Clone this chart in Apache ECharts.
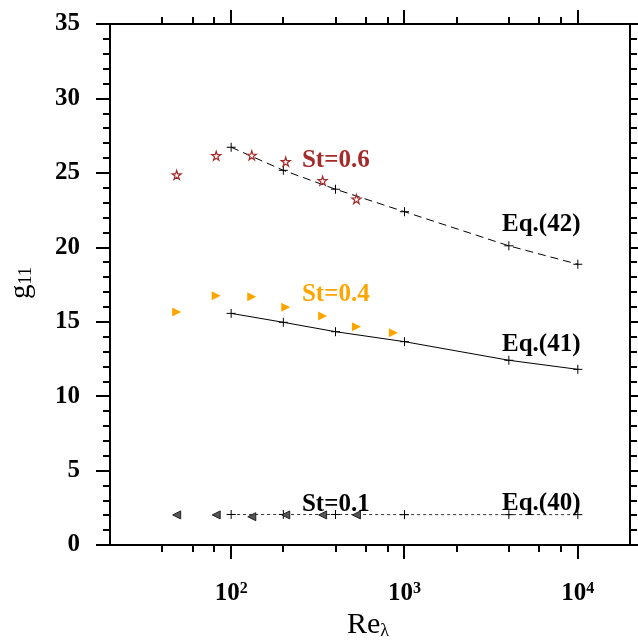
<!DOCTYPE html>
<html>
<head>
<meta charset="utf-8">
<script src="https://cdn.jsdelivr.net/npm/echarts@6/dist/echarts.min.js"></script>
<style>
  html, body { margin: 0; padding: 0; background: #fff; }
  #chart { width: 638px; height: 644px; }
</style>
</head>
<body>
<div id="chart"></div>
<script>
// Reynolds numbers of the simulation runs
const reSim = [48.5, 82, 131.5, 206.5, 337, 528, 863];
// g11 from the simulations, one array per Stokes number
const g11St06 = [24.86, 26.15, 26.18, 25.75, 24.47, 23.24];
const g11St04 = [15.65, 16.75, 16.68, 15.97, 15.38, 14.67, 14.26];
const g11St01 = [2.02, 2.02, 1.9, 2.02, 2.02, 2.02];

// Model predictions, Eq.(40)-(42)
const reModel = [100, 200, 400, 1000, 4000, 10000];
const g11Eq42 = [26.72, 25.17, 23.9, 22.39, 20.1, 18.86];
const g11Eq41 = [15.56, 14.96, 14.33, 13.66, 12.41, 11.80];
const g11Eq40 = [2.05, 2.05, 2.05, 2.04, 2.04, 2.04];

// Log-axis tick values
const xMajorTicks = [100, 1000, 10000];
const xMinorTicks = [40, 60, 80, 200, 400, 600, 800, 2000, 4000, 6000, 8000];

// Text annotations anchored in data coordinates (left edge, vertical middle)
const noteText = ['St=0.6', 'St=0.4', 'St=0.1', 'Eq.(42)', 'Eq.(41)', 'Eq.(40)'];
const noteRe   = [256, 256, 256, 3652, 3652, 3652];
const noteG    = [25.8, 16.8, 2.7, 21.5, 13.45, 2.77];
const noteColor = ['#A52A2A', '#FFA500', '#000', '#000', '#000', '#000'];

const zip = (xs, ys) => ys.map((y, i) => [xs[i], y]);

const SERIF = '"Liberation Serif", "Times New Roman", serif';
const STAR = 'path://M50,0 L61,35 L98,35 L68,57 L79,91 L50,70 L21,91 L32,57 L2,35 L39,35 Z';
const PLUS = 'path://M0,5 L10,5 M5,0 L5,10';

const chart = echarts.init(document.getElementById('chart'), null, { renderer: 'canvas' });

const xTickData = xMajorTicks.map(v => [v, 1]).concat(xMinorTicks.map(v => [v, 0]));

const plusItem = { color: 'rgba(0,0,0,0)', borderColor: '#000', borderWidth: 1, opacity: 1 };

chart.setOption({
  animation: false,
  backgroundColor: '#fff',
  grid: { left: 110, right: 8, top: 24, bottom: 99, show: true, borderColor: '#000', borderWidth: 2, backgroundColor: 'transparent' },
  xAxis: {
    type: 'log', logBase: 10, min: 20, max: 20000,
    axisLine: { show: true, lineStyle: { color: '#000', width: 2 } },
    axisTick: { show: false },
    splitLine: { show: false },
    axisLabel: {
      margin: 36,
      formatter: function (v) {
        const e = Math.log10(v);
        if (Math.abs(e - Math.round(e)) > 1e-6) return '';
        return '{b|10}{s|' + Math.round(e) + '}';
      },
      rich: {
        b: { fontFamily: SERIF, fontWeight: 'bold', fontSize: 25, lineHeight: 25, color: '#000' },
        s: { fontFamily: SERIF, fontWeight: 'bold', fontSize: 16, lineHeight: 16, verticalAlign: 'top', color: '#000' }
      }
    }
  },
  yAxis: [{
    type: 'value', min: 0, max: 35, interval: 5,
    axisLine: { show: true, lineStyle: { color: '#000', width: 2 } },
    axisTick: { show: true, inside: false, length: 14, lineStyle: { color: '#000', width: 2 } },
    minorTick: { show: true, splitNumber: 5, length: 7, lineStyle: { color: '#000', width: 2 } },
    splitLine: { show: false },
    axisLabel: { margin: 30, fontFamily: SERIF, fontWeight: 'bold', fontSize: 25, color: '#000' }
  }, {
    type: 'value', min: 0, max: 35, interval: 5, position: 'right',
    axisLine: { show: true, lineStyle: { color: '#000', width: 2 } },
    axisTick: { show: true, inside: false, length: 14, lineStyle: { color: '#000', width: 2 } },
    minorTick: { show: true, splitNumber: 5, length: 7, lineStyle: { color: '#000', width: 2 } },
    splitLine: { show: false },
    axisLabel: { show: false }
  }],
  graphic: [{
    type: 'text', x: 21, y: 283, rotation: Math.PI / 2,
    style: {
      text: 'g{s|11}', align: 'center', verticalAlign: 'middle',
      fontFamily: SERIF, fontSize: 29, fill: '#000',
      rich: { s: { fontFamily: SERIF, fontSize: 18, verticalAlign: 'bottom', fill: '#000' } }
    }
  }, {
    type: 'text', x: 368, y: 625,
    style: {
      text: 'Re{s|λ}', align: 'center', verticalAlign: 'middle',
      fontFamily: SERIF, fontSize: 30, fill: '#000',
      rich: { s: { fontFamily: SERIF, fontSize: 18, verticalAlign: 'bottom', fill: '#000' } }
    }
  }],
  series: [
    {
      // log-axis tick marks on the bottom and top edges
      type: 'custom', clip: false, silent: true, z: 10,
      data: xTickData,
      renderItem: function (params, api) {
        const v = api.value(0);
        const len = api.value(1) ? 14 : 7;
        const pb = api.coord([v, 0]);
        const pt = api.coord([v, 35]);
        const x = Math.round(pb[0]);
        return {
          type: 'group',
          children: [
            { type: 'line', shape: { x1: x, y1: pb[1], x2: x, y2: pb[1] + len }, style: { stroke: '#000', lineWidth: 2 } },
            { type: 'line', shape: { x1: x, y1: pt[1], x2: x, y2: pt[1] - len }, style: { stroke: '#000', lineWidth: 2 } }
          ]
        };
      }
    },
    {
      name: 'Eq.(42)', type: 'line', data: zip(reModel, g11Eq42),
      symbol: PLUS, symbolSize: 9, showAllSymbol: true,
      lineStyle: { color: '#000', width: 1, type: [8, 5] }, itemStyle: plusItem, z: 3
    },
    {
      name: 'Eq.(41)', type: 'line', data: zip(reModel, g11Eq41),
      symbol: PLUS, symbolSize: 9, showAllSymbol: true,
      lineStyle: { color: '#000', width: 1 }, itemStyle: plusItem, z: 3
    },
    {
      name: 'Eq.(40)', type: 'line', data: zip(reModel, g11Eq40),
      symbol: PLUS, symbolSize: 9, showAllSymbol: true,
      lineStyle: { color: '#333', width: 1, type: [3, 3] }, itemStyle: plusItem, z: 3
    },
    {
      name: 'St=0.6', type: 'scatter', data: zip(reSim, g11St06),
      symbol: STAR, symbolSize: 9,
      itemStyle: { color: '#fff', borderColor: '#A52A2A', borderWidth: 1.2, opacity: 1 }, z: 4
    },
    {
      name: 'St=0.4', type: 'scatter', data: zip(reSim, g11St04),
      symbol: 'triangle', symbolSize: 9, symbolRotate: -90,
      itemStyle: { color: '#FFA500', opacity: 1 }, z: 4
    },
    {
      name: 'St=0.1', type: 'scatter', data: zip(reSim, g11St01),
      symbol: 'triangle', symbolSize: 8, symbolRotate: 90,
      itemStyle: { color: '#555', borderColor: '#222', borderWidth: 1, opacity: 1 }, z: 4
    },
    {
      name: 'notes', type: 'scatter', silent: true, symbolSize: 0, z: 5,
      itemStyle: { opacity: 1 },
      data: noteText.map((t, i) => ({
        value: [noteRe[i], noteG[i]],
        label: {
          show: true, position: 'right', distance: 0, formatter: t,
          fontFamily: SERIF, fontWeight: 'bold', fontSize: 25, color: noteColor[i]
        }
      }))
    }
  ]
});
</script>
</body>
</html>
